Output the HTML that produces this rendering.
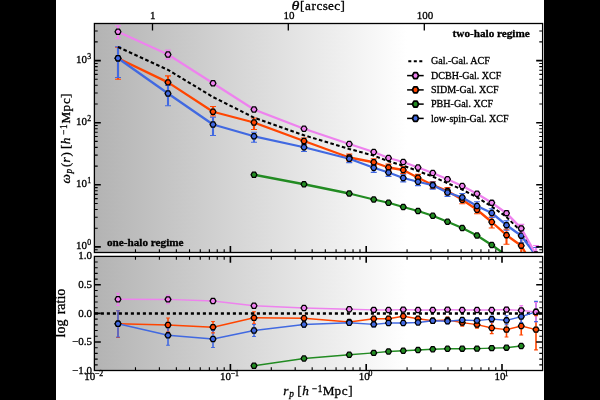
<!DOCTYPE html>
<html lang="en"><head><meta charset="utf-8"><title>Projected correlation functions</title>
<style>html,body{margin:0;padding:0;background:#000;width:600px;height:400px;overflow:hidden}svg{display:block}text{font-family:"Liberation Serif","DejaVu Serif",serif;fill:#000;stroke:#000;stroke-width:0.3px}.t{font-size:11px}.s{font-size:7.8px}.l{font-size:13.2px}.ls{font-size:9.3px}.ll{font-size:14px}.i{font-style:italic}.b{font-weight:bold;font-size:11.2px}.g{font-size:10.05px}</style></head><body>
<svg width="600" height="400" viewBox="0 0 600 400">
<defs><linearGradient id="gr" gradientUnits="userSpaceOnUse" x1="94.6" y1="0" x2="407" y2="0"><stop offset="0" stop-color="#b3b3b3"/><stop offset="1" stop-color="#ffffff"/></linearGradient>
<clipPath id="cu"><rect x="94.4" y="23.5" width="448.2" height="229"/></clipPath>
<clipPath id="cl"><rect x="94.4" y="256.4" width="448.2" height="114.1"/></clipPath></defs>
<rect x="0" y="0" width="600" height="400" fill="#000"/>
<rect x="56" y="0" width="488" height="400" fill="#fff"/>
<rect x="94.4" y="23.5" width="448.2" height="229" fill="url(#gr)"/>
<rect x="94.4" y="256.4" width="448.2" height="114.1" fill="url(#gr)"/>
<g clip-path="url(#cu)">
<path d="M118 47.25V79.25M168 75.9V93.4M213 106.45V115.95M254 118V129.5M304 138V144M349.25 154.1V160.9M373.75 158.85V165.65M388.5 164.1V170.9M403.25 166.6V173.4M418 174.35V181.15M432.75 181.6V188.4M447.5 187.6V194.4M462.25 196.25V203.75M477 206.25V213.75M491.75 217V228M506.5 229.2V244.2M521.25 236.7V259.7M536 259V301" fill="none" stroke="#ff4500" stroke-width="2.1"/>
<path d="M118 46.75V77.55M168 85.5V105.8M213 117.3V135.5M254 132.25V142.25M304 144.25V151.55M349.25 155.45V162.65M373.75 164.45V172.35M388.5 169.2V176.4M403.25 174.7V181.9M418 178.45V185.65M432.75 181.95V189.15M447.5 189.2V196.4M462.25 193.5V201.5M477 201.7V210.3M491.75 208.7V217.5M506.5 220.7V230.2M521.25 230.2V242.7M536 247.5V267.5" fill="none" stroke="#4169e1" stroke-width="2.1"/>
<path d="M118 25.75V38.75M168 50.1V59.1M213 81.25V85.25M254 107.5V111.5M304 127.25V130.25M349.25 143V145M373.75 151V153M388.5 157V159M403.25 161V163M418 166.5V168.5M432.75 172V174M447.5 178.25V180.25M462.25 185V187M477 192.25V195.25M491.75 200.8V204.8M506.5 210.7V215.7M521.25 224.4V232.9M536 245.5V263.5" fill="none" stroke="#ee82ee" stroke-width="2.1"/>
<path d="M115 47.25h6M115 79.25h6M165 75.9h6M165 93.4h6M210 106.45h6M210 115.95h6M251 118h6M251 129.5h6M301 138h6M301 144h6M346.25 154.1h6M346.25 160.9h6M370.75 158.85h6M370.75 165.65h6M385.5 164.1h6M385.5 170.9h6M400.25 166.6h6M400.25 173.4h6M415 174.35h6M415 181.15h6M429.75 181.6h6M429.75 188.4h6M444.5 187.6h6M444.5 194.4h6M459.25 196.25h6M459.25 203.75h6M474 206.25h6M474 213.75h6M488.75 217h6M488.75 228h6M503.5 229.2h6M503.5 244.2h6M518.25 236.7h6M518.25 259.7h6M533 259h6M533 301h6" fill="none" stroke="#ff4500" stroke-width="1.1"/>
<path d="M115 25.75h6M115 38.75h6M165 50.1h6M165 59.1h6M210 81.25h6M210 85.25h6M251 107.5h6M251 111.5h6M301 127.25h6M301 130.25h6M346.25 143h6M346.25 145h6M370.75 151h6M370.75 153h6M385.5 157h6M385.5 159h6M400.25 161h6M400.25 163h6M415 166.5h6M415 168.5h6M429.75 172h6M429.75 174h6M444.5 178.25h6M444.5 180.25h6M459.25 185h6M459.25 187h6M474 192.25h6M474 195.25h6M488.75 200.8h6M488.75 204.8h6M503.5 210.7h6M503.5 215.7h6M518.25 224.4h6M518.25 232.9h6M533 245.5h6M533 263.5h6" fill="none" stroke="#ee82ee" stroke-width="1.1"/>
<path d="M115 46.75h6M115 77.55h6M165 85.5h6M165 105.8h6M210 117.3h6M210 135.5h6M251 132.25h6M251 142.25h6M301 144.25h6M301 151.55h6M346.25 155.45h6M346.25 162.65h6M370.75 164.45h6M370.75 172.35h6M385.5 169.2h6M385.5 176.4h6M400.25 174.7h6M400.25 181.9h6M415 178.45h6M415 185.65h6M429.75 181.95h6M429.75 189.15h6M444.5 189.2h6M444.5 196.4h6M459.25 193.5h6M459.25 201.5h6M474 201.7h6M474 210.3h6M488.75 208.7h6M488.75 217.5h6M503.5 220.7h6M503.5 230.2h6M518.25 230.2h6M518.25 242.7h6M533 247.5h6M533 267.5h6" fill="none" stroke="#4169e1" stroke-width="1.1"/>
<polyline points="118,47 168,69.9 213,97 254,117.6 304,135.3 349.25,149 373.75,155.6 388.5,161.3 403.25,165.6 418,171 432.75,176.6 447.5,183.2 462.25,189.6 477,197.4 491.75,206.5 506.5,217 521.25,231.5 536,256.5" fill="none" stroke="#000" stroke-width="2.05" stroke-dasharray="3.6 2.4"/>
<polyline points="118,58.25 168,82.4 213,111.75 254,122.5 304,141 349.25,157.5 373.75,162.25 388.5,167.5 403.25,170 418,177.75 432.75,185 447.5,191 462.25,199.75 477,209.75 491.75,222 506.5,235.2 521.25,245.7 536,271" fill="none" stroke="#ff4500" stroke-width="2.3" stroke-linejoin="round"/>
<polygon points="120.95,58.25 119.47,60.8 116.53,60.8 115.05,58.25 116.53,55.7 119.47,55.7" fill="#ff4500" stroke="#000" stroke-width="1.3" stroke-linejoin="round"/>
<polygon points="170.95,82.4 169.47,84.95 166.53,84.95 165.05,82.4 166.53,79.85 169.47,79.85" fill="#ff4500" stroke="#000" stroke-width="1.3" stroke-linejoin="round"/>
<polygon points="215.95,111.75 214.47,114.3 211.53,114.3 210.05,111.75 211.53,109.2 214.47,109.2" fill="#ff4500" stroke="#000" stroke-width="1.3" stroke-linejoin="round"/>
<polygon points="256.95,122.5 255.47,125.05 252.53,125.05 251.05,122.5 252.53,119.95 255.47,119.95" fill="#ff4500" stroke="#000" stroke-width="1.3" stroke-linejoin="round"/>
<polygon points="306.95,141 305.48,143.55 302.52,143.55 301.05,141 302.52,138.45 305.48,138.45" fill="#ff4500" stroke="#000" stroke-width="1.3" stroke-linejoin="round"/>
<polygon points="352.2,157.5 350.73,160.05 347.77,160.05 346.3,157.5 347.77,154.95 350.73,154.95" fill="#ff4500" stroke="#000" stroke-width="1.3" stroke-linejoin="round"/>
<polygon points="376.7,162.25 375.23,164.8 372.27,164.8 370.8,162.25 372.27,159.7 375.23,159.7" fill="#ff4500" stroke="#000" stroke-width="1.3" stroke-linejoin="round"/>
<polygon points="391.45,167.5 389.98,170.05 387.02,170.05 385.55,167.5 387.02,164.95 389.98,164.95" fill="#ff4500" stroke="#000" stroke-width="1.3" stroke-linejoin="round"/>
<polygon points="406.2,170 404.73,172.55 401.77,172.55 400.3,170 401.77,167.45 404.73,167.45" fill="#ff4500" stroke="#000" stroke-width="1.3" stroke-linejoin="round"/>
<polygon points="420.95,177.75 419.48,180.3 416.52,180.3 415.05,177.75 416.52,175.2 419.48,175.2" fill="#ff4500" stroke="#000" stroke-width="1.3" stroke-linejoin="round"/>
<polygon points="435.7,185 434.23,187.55 431.27,187.55 429.8,185 431.27,182.45 434.23,182.45" fill="#ff4500" stroke="#000" stroke-width="1.3" stroke-linejoin="round"/>
<polygon points="450.45,191 448.98,193.55 446.02,193.55 444.55,191 446.02,188.45 448.98,188.45" fill="#ff4500" stroke="#000" stroke-width="1.3" stroke-linejoin="round"/>
<polygon points="465.2,199.75 463.73,202.3 460.77,202.3 459.3,199.75 460.77,197.2 463.73,197.2" fill="#ff4500" stroke="#000" stroke-width="1.3" stroke-linejoin="round"/>
<polygon points="479.95,209.75 478.48,212.3 475.52,212.3 474.05,209.75 475.52,207.2 478.48,207.2" fill="#ff4500" stroke="#000" stroke-width="1.3" stroke-linejoin="round"/>
<polygon points="494.7,222 493.23,224.55 490.27,224.55 488.8,222 490.27,219.45 493.23,219.45" fill="#ff4500" stroke="#000" stroke-width="1.3" stroke-linejoin="round"/>
<polygon points="509.45,235.2 507.98,237.75 505.02,237.75 503.55,235.2 505.02,232.65 507.98,232.65" fill="#ff4500" stroke="#000" stroke-width="1.3" stroke-linejoin="round"/>
<polygon points="524.2,245.7 522.73,248.25 519.77,248.25 518.3,245.7 519.77,243.15 522.73,243.15" fill="#ff4500" stroke="#000" stroke-width="1.3" stroke-linejoin="round"/>
<polygon points="538.95,271 537.48,273.55 534.52,273.55 533.05,271 534.52,268.45 537.48,268.45" fill="#ff4500" stroke="#000" stroke-width="1.3" stroke-linejoin="round"/>
<polyline points="254,174.75 304,184.25 349.25,193.5 373.75,199.5 388.5,202.75 403.25,207 418,211 432.75,215.75 447.5,221.75 462.25,228 477,235.5 491.75,245 506.5,255.5 521.25,268" fill="none" stroke="#228b22" stroke-width="2.3" stroke-linejoin="round"/>
<polygon points="256.95,174.75 255.47,177.3 252.53,177.3 251.05,174.75 252.53,172.2 255.47,172.2" fill="#228b22" stroke="#000" stroke-width="1.3" stroke-linejoin="round"/>
<polygon points="306.95,184.25 305.48,186.8 302.52,186.8 301.05,184.25 302.52,181.7 305.48,181.7" fill="#228b22" stroke="#000" stroke-width="1.3" stroke-linejoin="round"/>
<polygon points="352.2,193.5 350.73,196.05 347.77,196.05 346.3,193.5 347.77,190.95 350.73,190.95" fill="#228b22" stroke="#000" stroke-width="1.3" stroke-linejoin="round"/>
<polygon points="376.7,199.5 375.23,202.05 372.27,202.05 370.8,199.5 372.27,196.95 375.23,196.95" fill="#228b22" stroke="#000" stroke-width="1.3" stroke-linejoin="round"/>
<polygon points="391.45,202.75 389.98,205.3 387.02,205.3 385.55,202.75 387.02,200.2 389.98,200.2" fill="#228b22" stroke="#000" stroke-width="1.3" stroke-linejoin="round"/>
<polygon points="406.2,207 404.73,209.55 401.77,209.55 400.3,207 401.77,204.45 404.73,204.45" fill="#228b22" stroke="#000" stroke-width="1.3" stroke-linejoin="round"/>
<polygon points="420.95,211 419.48,213.55 416.52,213.55 415.05,211 416.52,208.45 419.48,208.45" fill="#228b22" stroke="#000" stroke-width="1.3" stroke-linejoin="round"/>
<polygon points="435.7,215.75 434.23,218.3 431.27,218.3 429.8,215.75 431.27,213.2 434.23,213.2" fill="#228b22" stroke="#000" stroke-width="1.3" stroke-linejoin="round"/>
<polygon points="450.45,221.75 448.98,224.3 446.02,224.3 444.55,221.75 446.02,219.2 448.98,219.2" fill="#228b22" stroke="#000" stroke-width="1.3" stroke-linejoin="round"/>
<polygon points="465.2,228 463.73,230.55 460.77,230.55 459.3,228 460.77,225.45 463.73,225.45" fill="#228b22" stroke="#000" stroke-width="1.3" stroke-linejoin="round"/>
<polygon points="479.95,235.5 478.48,238.05 475.52,238.05 474.05,235.5 475.52,232.95 478.48,232.95" fill="#228b22" stroke="#000" stroke-width="1.3" stroke-linejoin="round"/>
<polygon points="494.7,245 493.23,247.55 490.27,247.55 488.8,245 490.27,242.45 493.23,242.45" fill="#228b22" stroke="#000" stroke-width="1.3" stroke-linejoin="round"/>
<polygon points="509.45,255.5 507.98,258.05 505.02,258.05 503.55,255.5 505.02,252.95 507.98,252.95" fill="#228b22" stroke="#000" stroke-width="1.3" stroke-linejoin="round"/>
<polygon points="524.2,268 522.73,270.55 519.77,270.55 518.3,268 519.77,265.45 522.73,265.45" fill="#228b22" stroke="#000" stroke-width="1.3" stroke-linejoin="round"/>
<polyline points="118,58.25 168,93.5 213,124.5 254,136.25 304,147.25 349.25,158.75 373.75,167.75 388.5,172.5 403.25,178 418,181.75 432.75,185.25 447.5,192.5 462.25,197.5 477,206 491.75,213 506.5,225.2 521.25,235.7 536,255.5" fill="none" stroke="#4169e1" stroke-width="2.3" stroke-linejoin="round"/>
<polygon points="120.95,58.25 119.47,60.8 116.53,60.8 115.05,58.25 116.53,55.7 119.47,55.7" fill="#4169e1" stroke="#000" stroke-width="1.3" stroke-linejoin="round"/>
<polygon points="170.95,93.5 169.47,96.05 166.53,96.05 165.05,93.5 166.53,90.95 169.47,90.95" fill="#4169e1" stroke="#000" stroke-width="1.3" stroke-linejoin="round"/>
<polygon points="215.95,124.5 214.47,127.05 211.53,127.05 210.05,124.5 211.53,121.95 214.47,121.95" fill="#4169e1" stroke="#000" stroke-width="1.3" stroke-linejoin="round"/>
<polygon points="256.95,136.25 255.47,138.8 252.53,138.8 251.05,136.25 252.53,133.7 255.47,133.7" fill="#4169e1" stroke="#000" stroke-width="1.3" stroke-linejoin="round"/>
<polygon points="306.95,147.25 305.48,149.8 302.52,149.8 301.05,147.25 302.52,144.7 305.48,144.7" fill="#4169e1" stroke="#000" stroke-width="1.3" stroke-linejoin="round"/>
<polygon points="352.2,158.75 350.73,161.3 347.77,161.3 346.3,158.75 347.77,156.2 350.73,156.2" fill="#4169e1" stroke="#000" stroke-width="1.3" stroke-linejoin="round"/>
<polygon points="376.7,167.75 375.23,170.3 372.27,170.3 370.8,167.75 372.27,165.2 375.23,165.2" fill="#4169e1" stroke="#000" stroke-width="1.3" stroke-linejoin="round"/>
<polygon points="391.45,172.5 389.98,175.05 387.02,175.05 385.55,172.5 387.02,169.95 389.98,169.95" fill="#4169e1" stroke="#000" stroke-width="1.3" stroke-linejoin="round"/>
<polygon points="406.2,178 404.73,180.55 401.77,180.55 400.3,178 401.77,175.45 404.73,175.45" fill="#4169e1" stroke="#000" stroke-width="1.3" stroke-linejoin="round"/>
<polygon points="420.95,181.75 419.48,184.3 416.52,184.3 415.05,181.75 416.52,179.2 419.48,179.2" fill="#4169e1" stroke="#000" stroke-width="1.3" stroke-linejoin="round"/>
<polygon points="435.7,185.25 434.23,187.8 431.27,187.8 429.8,185.25 431.27,182.7 434.23,182.7" fill="#4169e1" stroke="#000" stroke-width="1.3" stroke-linejoin="round"/>
<polygon points="450.45,192.5 448.98,195.05 446.02,195.05 444.55,192.5 446.02,189.95 448.98,189.95" fill="#4169e1" stroke="#000" stroke-width="1.3" stroke-linejoin="round"/>
<polygon points="465.2,197.5 463.73,200.05 460.77,200.05 459.3,197.5 460.77,194.95 463.73,194.95" fill="#4169e1" stroke="#000" stroke-width="1.3" stroke-linejoin="round"/>
<polygon points="479.95,206 478.48,208.55 475.52,208.55 474.05,206 475.52,203.45 478.48,203.45" fill="#4169e1" stroke="#000" stroke-width="1.3" stroke-linejoin="round"/>
<polygon points="494.7,213 493.23,215.55 490.27,215.55 488.8,213 490.27,210.45 493.23,210.45" fill="#4169e1" stroke="#000" stroke-width="1.3" stroke-linejoin="round"/>
<polygon points="509.45,225.2 507.98,227.75 505.02,227.75 503.55,225.2 505.02,222.65 507.98,222.65" fill="#4169e1" stroke="#000" stroke-width="1.3" stroke-linejoin="round"/>
<polygon points="524.2,235.7 522.73,238.25 519.77,238.25 518.3,235.7 519.77,233.15 522.73,233.15" fill="#4169e1" stroke="#000" stroke-width="1.3" stroke-linejoin="round"/>
<polygon points="538.95,255.5 537.48,258.05 534.52,258.05 533.05,255.5 534.52,252.95 537.48,252.95" fill="#4169e1" stroke="#000" stroke-width="1.3" stroke-linejoin="round"/>
<polyline points="118,31.75 168,54.5 213,83.25 254,109.5 304,128.75 349.25,144 373.75,152 388.5,158 403.25,162 418,167.5 432.75,173 447.5,179.25 462.25,186 477,193.75 491.75,202.8 506.5,213.2 521.25,228.4 536,254.5" fill="none" stroke="#ee82ee" stroke-width="2.3" stroke-linejoin="round"/>
<polygon points="120.95,31.75 119.47,34.3 116.53,34.3 115.05,31.75 116.53,29.2 119.47,29.2" fill="#ee82ee" stroke="#000" stroke-width="1.3" stroke-linejoin="round"/>
<polygon points="170.95,54.5 169.47,57.05 166.53,57.05 165.05,54.5 166.53,51.95 169.47,51.95" fill="#ee82ee" stroke="#000" stroke-width="1.3" stroke-linejoin="round"/>
<polygon points="215.95,83.25 214.47,85.8 211.53,85.8 210.05,83.25 211.53,80.7 214.47,80.7" fill="#ee82ee" stroke="#000" stroke-width="1.3" stroke-linejoin="round"/>
<polygon points="256.95,109.5 255.47,112.05 252.53,112.05 251.05,109.5 252.53,106.95 255.47,106.95" fill="#ee82ee" stroke="#000" stroke-width="1.3" stroke-linejoin="round"/>
<polygon points="306.95,128.75 305.48,131.3 302.52,131.3 301.05,128.75 302.52,126.2 305.48,126.2" fill="#ee82ee" stroke="#000" stroke-width="1.3" stroke-linejoin="round"/>
<polygon points="352.2,144 350.73,146.55 347.77,146.55 346.3,144 347.77,141.45 350.73,141.45" fill="#ee82ee" stroke="#000" stroke-width="1.3" stroke-linejoin="round"/>
<polygon points="376.7,152 375.23,154.55 372.27,154.55 370.8,152 372.27,149.45 375.23,149.45" fill="#ee82ee" stroke="#000" stroke-width="1.3" stroke-linejoin="round"/>
<polygon points="391.45,158 389.98,160.55 387.02,160.55 385.55,158 387.02,155.45 389.98,155.45" fill="#ee82ee" stroke="#000" stroke-width="1.3" stroke-linejoin="round"/>
<polygon points="406.2,162 404.73,164.55 401.77,164.55 400.3,162 401.77,159.45 404.73,159.45" fill="#ee82ee" stroke="#000" stroke-width="1.3" stroke-linejoin="round"/>
<polygon points="420.95,167.5 419.48,170.05 416.52,170.05 415.05,167.5 416.52,164.95 419.48,164.95" fill="#ee82ee" stroke="#000" stroke-width="1.3" stroke-linejoin="round"/>
<polygon points="435.7,173 434.23,175.55 431.27,175.55 429.8,173 431.27,170.45 434.23,170.45" fill="#ee82ee" stroke="#000" stroke-width="1.3" stroke-linejoin="round"/>
<polygon points="450.45,179.25 448.98,181.8 446.02,181.8 444.55,179.25 446.02,176.7 448.98,176.7" fill="#ee82ee" stroke="#000" stroke-width="1.3" stroke-linejoin="round"/>
<polygon points="465.2,186 463.73,188.55 460.77,188.55 459.3,186 460.77,183.45 463.73,183.45" fill="#ee82ee" stroke="#000" stroke-width="1.3" stroke-linejoin="round"/>
<polygon points="479.95,193.75 478.48,196.3 475.52,196.3 474.05,193.75 475.52,191.2 478.48,191.2" fill="#ee82ee" stroke="#000" stroke-width="1.3" stroke-linejoin="round"/>
<polygon points="494.7,202.8 493.23,205.35 490.27,205.35 488.8,202.8 490.27,200.25 493.23,200.25" fill="#ee82ee" stroke="#000" stroke-width="1.3" stroke-linejoin="round"/>
<polygon points="509.45,213.2 507.98,215.75 505.02,215.75 503.55,213.2 505.02,210.65 507.98,210.65" fill="#ee82ee" stroke="#000" stroke-width="1.3" stroke-linejoin="round"/>
<polygon points="524.2,228.4 522.73,230.95 519.77,230.95 518.3,228.4 519.77,225.85 522.73,225.85" fill="#ee82ee" stroke="#000" stroke-width="1.3" stroke-linejoin="round"/>
<polygon points="538.95,254.5 537.48,257.05 534.52,257.05 533.05,254.5 534.52,251.95 537.48,251.95" fill="#ee82ee" stroke="#000" stroke-width="1.3" stroke-linejoin="round"/>
</g>
<g clip-path="url(#cl)">
<path d="M118 310.75V337.45M168 318V332M213 321.5V332.9M254 311.8V323.8M304 315.25V321.25M349.25 319.5V324.5M373.75 316.25V321.25M388.5 316.25V321.25M403.25 313.75V318.75M418 316.25V321.25M432.75 318.25V323.25M447.5 317V323M462.25 319.1V326.1M477 321.1V328.1M491.75 322.4V333.6M506.5 322.2V337M521.25 317V335M536 315.6V349.9" fill="none" stroke="#ff4500" stroke-width="1.6"/>
<path d="M118 310.75V337.05M168 325.3V345.3M213 330.5V347.5M254 324.5V336.5M304 321.5V327.5M349.25 320.25V325.25M373.75 321.9V326.9M388.5 320.5V325.5M403.25 321V325M418 320.5V324.5M432.75 318.75V322.75M447.5 318.75V323.75M462.25 317.5V322.5M477 317.6V323.6M491.75 316.1V322.1M506.5 315.8V324.8M521.25 310.6V322.6M536 301.4V321.6" fill="none" stroke="#4169e1" stroke-width="1.6"/>
<path d="M118 293.25V305.45M168 295.2V303.6M213 298.5V303.5M254 303.75V307.75M304 306.5V309.5M349.25 308.25V310.25M373.75 308.9V310.9M388.5 309V311M403.25 308.6V310.6M418 309V311M432.75 309V311M447.5 308.6V310.6M462.25 309V311M477 308.5V311.5M491.75 308V312M506.5 307.1V312.1M521.25 305.6V315.2M536 302.4V321.6" fill="none" stroke="#ee82ee" stroke-width="1.6"/>
<path d="M116.1 310.75h3.8M116.1 337.45h3.8M166.1 318h3.8M166.1 332h3.8M211.1 321.5h3.8M211.1 332.9h3.8M252.1 311.8h3.8M252.1 323.8h3.8M302.1 315.25h3.8M302.1 321.25h3.8M347.35 319.5h3.8M347.35 324.5h3.8M371.85 316.25h3.8M371.85 321.25h3.8M386.6 316.25h3.8M386.6 321.25h3.8M401.35 313.75h3.8M401.35 318.75h3.8M416.1 316.25h3.8M416.1 321.25h3.8M430.85 318.25h3.8M430.85 323.25h3.8M445.6 317h3.8M445.6 323h3.8M460.35 319.1h3.8M460.35 326.1h3.8M475.1 321.1h3.8M475.1 328.1h3.8M489.85 322.4h3.8M489.85 333.6h3.8M504.6 322.2h3.8M504.6 337h3.8M519.35 317h3.8M519.35 335h3.8M534.1 315.6h3.8M534.1 349.9h3.8" fill="none" stroke="#ff4500" stroke-width="1.1"/>
<path d="M116.1 293.25h3.8M116.1 305.45h3.8M166.1 295.2h3.8M166.1 303.6h3.8M211.1 298.5h3.8M211.1 303.5h3.8M252.1 303.75h3.8M252.1 307.75h3.8M302.1 306.5h3.8M302.1 309.5h3.8M347.35 308.25h3.8M347.35 310.25h3.8M371.85 308.9h3.8M371.85 310.9h3.8M386.6 309h3.8M386.6 311h3.8M401.35 308.6h3.8M401.35 310.6h3.8M416.1 309h3.8M416.1 311h3.8M430.85 309h3.8M430.85 311h3.8M445.6 308.6h3.8M445.6 310.6h3.8M460.35 309h3.8M460.35 311h3.8M475.1 308.5h3.8M475.1 311.5h3.8M489.85 308h3.8M489.85 312h3.8M504.6 307.1h3.8M504.6 312.1h3.8M519.35 305.6h3.8M519.35 315.2h3.8M534.1 302.4h3.8M534.1 321.6h3.8" fill="none" stroke="#ee82ee" stroke-width="1.1"/>
<path d="M116.1 310.75h3.8M116.1 337.05h3.8M166.1 325.3h3.8M166.1 345.3h3.8M211.1 330.5h3.8M211.1 347.5h3.8M252.1 324.5h3.8M252.1 336.5h3.8M302.1 321.5h3.8M302.1 327.5h3.8M347.35 320.25h3.8M347.35 325.25h3.8M371.85 321.9h3.8M371.85 326.9h3.8M386.6 320.5h3.8M386.6 325.5h3.8M401.35 321h3.8M401.35 325h3.8M416.1 320.5h3.8M416.1 324.5h3.8M430.85 318.75h3.8M430.85 322.75h3.8M445.6 318.75h3.8M445.6 323.75h3.8M460.35 317.5h3.8M460.35 322.5h3.8M475.1 317.6h3.8M475.1 323.6h3.8M489.85 316.1h3.8M489.85 322.1h3.8M504.6 315.8h3.8M504.6 324.8h3.8M519.35 310.6h3.8M519.35 322.6h3.8M534.1 301.4h3.8M534.1 321.6h3.8" fill="none" stroke="#4169e1" stroke-width="1.1"/>
<path d="M88.85 313.4H542.6" fill="none" stroke="#000" stroke-width="2.5" stroke-dasharray="3.1 2.9"/>
<polyline points="118,323.75 168,325 213,327.2 254,317.8 304,318.25 349.25,322 373.75,318.75 388.5,318.75 403.25,316.25 418,318.75 432.75,320.75 447.5,320 462.25,322.6 477,324.6 491.75,328 506.5,329.6 521.25,326 536,329.6" fill="none" stroke="#ff4500" stroke-width="1.45" stroke-linejoin="round"/>
<polygon points="120.95,323.75 119.47,326.3 116.53,326.3 115.05,323.75 116.53,321.2 119.47,321.2" fill="#ff4500" stroke="#000" stroke-width="1.3" stroke-linejoin="round"/>
<polygon points="170.95,325 169.47,327.55 166.53,327.55 165.05,325 166.53,322.45 169.47,322.45" fill="#ff4500" stroke="#000" stroke-width="1.3" stroke-linejoin="round"/>
<polygon points="215.95,327.2 214.47,329.75 211.53,329.75 210.05,327.2 211.53,324.65 214.47,324.65" fill="#ff4500" stroke="#000" stroke-width="1.3" stroke-linejoin="round"/>
<polygon points="256.95,317.8 255.47,320.35 252.53,320.35 251.05,317.8 252.53,315.25 255.47,315.25" fill="#ff4500" stroke="#000" stroke-width="1.3" stroke-linejoin="round"/>
<polygon points="306.95,318.25 305.48,320.8 302.52,320.8 301.05,318.25 302.52,315.7 305.48,315.7" fill="#ff4500" stroke="#000" stroke-width="1.3" stroke-linejoin="round"/>
<polygon points="352.2,322 350.73,324.55 347.77,324.55 346.3,322 347.77,319.45 350.73,319.45" fill="#ff4500" stroke="#000" stroke-width="1.3" stroke-linejoin="round"/>
<polygon points="376.7,318.75 375.23,321.3 372.27,321.3 370.8,318.75 372.27,316.2 375.23,316.2" fill="#ff4500" stroke="#000" stroke-width="1.3" stroke-linejoin="round"/>
<polygon points="391.45,318.75 389.98,321.3 387.02,321.3 385.55,318.75 387.02,316.2 389.98,316.2" fill="#ff4500" stroke="#000" stroke-width="1.3" stroke-linejoin="round"/>
<polygon points="406.2,316.25 404.73,318.8 401.77,318.8 400.3,316.25 401.77,313.7 404.73,313.7" fill="#ff4500" stroke="#000" stroke-width="1.3" stroke-linejoin="round"/>
<polygon points="420.95,318.75 419.48,321.3 416.52,321.3 415.05,318.75 416.52,316.2 419.48,316.2" fill="#ff4500" stroke="#000" stroke-width="1.3" stroke-linejoin="round"/>
<polygon points="435.7,320.75 434.23,323.3 431.27,323.3 429.8,320.75 431.27,318.2 434.23,318.2" fill="#ff4500" stroke="#000" stroke-width="1.3" stroke-linejoin="round"/>
<polygon points="450.45,320 448.98,322.55 446.02,322.55 444.55,320 446.02,317.45 448.98,317.45" fill="#ff4500" stroke="#000" stroke-width="1.3" stroke-linejoin="round"/>
<polygon points="465.2,322.6 463.73,325.15 460.77,325.15 459.3,322.6 460.77,320.05 463.73,320.05" fill="#ff4500" stroke="#000" stroke-width="1.3" stroke-linejoin="round"/>
<polygon points="479.95,324.6 478.48,327.15 475.52,327.15 474.05,324.6 475.52,322.05 478.48,322.05" fill="#ff4500" stroke="#000" stroke-width="1.3" stroke-linejoin="round"/>
<polygon points="494.7,328 493.23,330.55 490.27,330.55 488.8,328 490.27,325.45 493.23,325.45" fill="#ff4500" stroke="#000" stroke-width="1.3" stroke-linejoin="round"/>
<polygon points="509.45,329.6 507.98,332.15 505.02,332.15 503.55,329.6 505.02,327.05 507.98,327.05" fill="#ff4500" stroke="#000" stroke-width="1.3" stroke-linejoin="round"/>
<polygon points="524.2,326 522.73,328.55 519.77,328.55 518.3,326 519.77,323.45 522.73,323.45" fill="#ff4500" stroke="#000" stroke-width="1.3" stroke-linejoin="round"/>
<polygon points="538.95,329.6 537.48,332.15 534.52,332.15 533.05,329.6 534.52,327.05 537.48,327.05" fill="#ff4500" stroke="#000" stroke-width="1.3" stroke-linejoin="round"/>
<polyline points="254,365.75 304,358.5 349.25,354.75 373.75,352.9 388.5,351.5 403.25,350.75 418,350 432.75,349.25 447.5,348.75 462.25,348.7 477,348.6 491.75,348.1 506.5,347.7 521.25,346" fill="none" stroke="#228b22" stroke-width="1.45" stroke-linejoin="round"/>
<polygon points="256.95,365.75 255.47,368.3 252.53,368.3 251.05,365.75 252.53,363.2 255.47,363.2" fill="#228b22" stroke="#000" stroke-width="1.3" stroke-linejoin="round"/>
<polygon points="306.95,358.5 305.48,361.05 302.52,361.05 301.05,358.5 302.52,355.95 305.48,355.95" fill="#228b22" stroke="#000" stroke-width="1.3" stroke-linejoin="round"/>
<polygon points="352.2,354.75 350.73,357.3 347.77,357.3 346.3,354.75 347.77,352.2 350.73,352.2" fill="#228b22" stroke="#000" stroke-width="1.3" stroke-linejoin="round"/>
<polygon points="376.7,352.9 375.23,355.45 372.27,355.45 370.8,352.9 372.27,350.35 375.23,350.35" fill="#228b22" stroke="#000" stroke-width="1.3" stroke-linejoin="round"/>
<polygon points="391.45,351.5 389.98,354.05 387.02,354.05 385.55,351.5 387.02,348.95 389.98,348.95" fill="#228b22" stroke="#000" stroke-width="1.3" stroke-linejoin="round"/>
<polygon points="406.2,350.75 404.73,353.3 401.77,353.3 400.3,350.75 401.77,348.2 404.73,348.2" fill="#228b22" stroke="#000" stroke-width="1.3" stroke-linejoin="round"/>
<polygon points="420.95,350 419.48,352.55 416.52,352.55 415.05,350 416.52,347.45 419.48,347.45" fill="#228b22" stroke="#000" stroke-width="1.3" stroke-linejoin="round"/>
<polygon points="435.7,349.25 434.23,351.8 431.27,351.8 429.8,349.25 431.27,346.7 434.23,346.7" fill="#228b22" stroke="#000" stroke-width="1.3" stroke-linejoin="round"/>
<polygon points="450.45,348.75 448.98,351.3 446.02,351.3 444.55,348.75 446.02,346.2 448.98,346.2" fill="#228b22" stroke="#000" stroke-width="1.3" stroke-linejoin="round"/>
<polygon points="465.2,348.7 463.73,351.25 460.77,351.25 459.3,348.7 460.77,346.15 463.73,346.15" fill="#228b22" stroke="#000" stroke-width="1.3" stroke-linejoin="round"/>
<polygon points="479.95,348.6 478.48,351.15 475.52,351.15 474.05,348.6 475.52,346.05 478.48,346.05" fill="#228b22" stroke="#000" stroke-width="1.3" stroke-linejoin="round"/>
<polygon points="494.7,348.1 493.23,350.65 490.27,350.65 488.8,348.1 490.27,345.55 493.23,345.55" fill="#228b22" stroke="#000" stroke-width="1.3" stroke-linejoin="round"/>
<polygon points="509.45,347.7 507.98,350.25 505.02,350.25 503.55,347.7 505.02,345.15 507.98,345.15" fill="#228b22" stroke="#000" stroke-width="1.3" stroke-linejoin="round"/>
<polygon points="524.2,346 522.73,348.55 519.77,348.55 518.3,346 519.77,343.45 522.73,343.45" fill="#228b22" stroke="#000" stroke-width="1.3" stroke-linejoin="round"/>
<polyline points="118,323.75 168,335.3 213,339 254,330.5 304,324.5 349.25,322.75 373.75,324.4 388.5,323 403.25,323 418,322.5 432.75,320.75 447.5,321.25 462.25,320 477,320.6 491.75,319.1 506.5,320.3 521.25,316.6 536,311.8" fill="none" stroke="#4169e1" stroke-width="1.45" stroke-linejoin="round"/>
<polygon points="120.95,323.75 119.47,326.3 116.53,326.3 115.05,323.75 116.53,321.2 119.47,321.2" fill="#4169e1" stroke="#000" stroke-width="1.3" stroke-linejoin="round"/>
<polygon points="170.95,335.3 169.47,337.85 166.53,337.85 165.05,335.3 166.53,332.75 169.47,332.75" fill="#4169e1" stroke="#000" stroke-width="1.3" stroke-linejoin="round"/>
<polygon points="215.95,339 214.47,341.55 211.53,341.55 210.05,339 211.53,336.45 214.47,336.45" fill="#4169e1" stroke="#000" stroke-width="1.3" stroke-linejoin="round"/>
<polygon points="256.95,330.5 255.47,333.05 252.53,333.05 251.05,330.5 252.53,327.95 255.47,327.95" fill="#4169e1" stroke="#000" stroke-width="1.3" stroke-linejoin="round"/>
<polygon points="306.95,324.5 305.48,327.05 302.52,327.05 301.05,324.5 302.52,321.95 305.48,321.95" fill="#4169e1" stroke="#000" stroke-width="1.3" stroke-linejoin="round"/>
<polygon points="352.2,322.75 350.73,325.3 347.77,325.3 346.3,322.75 347.77,320.2 350.73,320.2" fill="#4169e1" stroke="#000" stroke-width="1.3" stroke-linejoin="round"/>
<polygon points="376.7,324.4 375.23,326.95 372.27,326.95 370.8,324.4 372.27,321.85 375.23,321.85" fill="#4169e1" stroke="#000" stroke-width="1.3" stroke-linejoin="round"/>
<polygon points="391.45,323 389.98,325.55 387.02,325.55 385.55,323 387.02,320.45 389.98,320.45" fill="#4169e1" stroke="#000" stroke-width="1.3" stroke-linejoin="round"/>
<polygon points="406.2,323 404.73,325.55 401.77,325.55 400.3,323 401.77,320.45 404.73,320.45" fill="#4169e1" stroke="#000" stroke-width="1.3" stroke-linejoin="round"/>
<polygon points="420.95,322.5 419.48,325.05 416.52,325.05 415.05,322.5 416.52,319.95 419.48,319.95" fill="#4169e1" stroke="#000" stroke-width="1.3" stroke-linejoin="round"/>
<polygon points="435.7,320.75 434.23,323.3 431.27,323.3 429.8,320.75 431.27,318.2 434.23,318.2" fill="#4169e1" stroke="#000" stroke-width="1.3" stroke-linejoin="round"/>
<polygon points="450.45,321.25 448.98,323.8 446.02,323.8 444.55,321.25 446.02,318.7 448.98,318.7" fill="#4169e1" stroke="#000" stroke-width="1.3" stroke-linejoin="round"/>
<polygon points="465.2,320 463.73,322.55 460.77,322.55 459.3,320 460.77,317.45 463.73,317.45" fill="#4169e1" stroke="#000" stroke-width="1.3" stroke-linejoin="round"/>
<polygon points="479.95,320.6 478.48,323.15 475.52,323.15 474.05,320.6 475.52,318.05 478.48,318.05" fill="#4169e1" stroke="#000" stroke-width="1.3" stroke-linejoin="round"/>
<polygon points="494.7,319.1 493.23,321.65 490.27,321.65 488.8,319.1 490.27,316.55 493.23,316.55" fill="#4169e1" stroke="#000" stroke-width="1.3" stroke-linejoin="round"/>
<polygon points="509.45,320.3 507.98,322.85 505.02,322.85 503.55,320.3 505.02,317.75 507.98,317.75" fill="#4169e1" stroke="#000" stroke-width="1.3" stroke-linejoin="round"/>
<polygon points="524.2,316.6 522.73,319.15 519.77,319.15 518.3,316.6 519.77,314.05 522.73,314.05" fill="#4169e1" stroke="#000" stroke-width="1.3" stroke-linejoin="round"/>
<polygon points="538.95,311.8 537.48,314.35 534.52,314.35 533.05,311.8 534.52,309.25 537.48,309.25" fill="#4169e1" stroke="#000" stroke-width="1.3" stroke-linejoin="round"/>
<polyline points="118,299.25 168,299.4 213,301 254,305.75 304,308 349.25,309.25 373.75,309.9 388.5,310 403.25,309.6 418,310 432.75,310 447.5,309.6 462.25,310 477,310 491.75,310 506.5,309.6 521.25,310.4 536,312" fill="none" stroke="#ee82ee" stroke-width="1.45" stroke-linejoin="round"/>
<polygon points="120.95,299.25 119.47,301.8 116.53,301.8 115.05,299.25 116.53,296.7 119.47,296.7" fill="#ee82ee" stroke="#000" stroke-width="1.3" stroke-linejoin="round"/>
<polygon points="170.95,299.4 169.47,301.95 166.53,301.95 165.05,299.4 166.53,296.85 169.47,296.85" fill="#ee82ee" stroke="#000" stroke-width="1.3" stroke-linejoin="round"/>
<polygon points="215.95,301 214.47,303.55 211.53,303.55 210.05,301 211.53,298.45 214.47,298.45" fill="#ee82ee" stroke="#000" stroke-width="1.3" stroke-linejoin="round"/>
<polygon points="256.95,305.75 255.47,308.3 252.53,308.3 251.05,305.75 252.53,303.2 255.47,303.2" fill="#ee82ee" stroke="#000" stroke-width="1.3" stroke-linejoin="round"/>
<polygon points="306.95,308 305.48,310.55 302.52,310.55 301.05,308 302.52,305.45 305.48,305.45" fill="#ee82ee" stroke="#000" stroke-width="1.3" stroke-linejoin="round"/>
<polygon points="352.2,309.25 350.73,311.8 347.77,311.8 346.3,309.25 347.77,306.7 350.73,306.7" fill="#ee82ee" stroke="#000" stroke-width="1.3" stroke-linejoin="round"/>
<polygon points="376.7,309.9 375.23,312.45 372.27,312.45 370.8,309.9 372.27,307.35 375.23,307.35" fill="#ee82ee" stroke="#000" stroke-width="1.3" stroke-linejoin="round"/>
<polygon points="391.45,310 389.98,312.55 387.02,312.55 385.55,310 387.02,307.45 389.98,307.45" fill="#ee82ee" stroke="#000" stroke-width="1.3" stroke-linejoin="round"/>
<polygon points="406.2,309.6 404.73,312.15 401.77,312.15 400.3,309.6 401.77,307.05 404.73,307.05" fill="#ee82ee" stroke="#000" stroke-width="1.3" stroke-linejoin="round"/>
<polygon points="420.95,310 419.48,312.55 416.52,312.55 415.05,310 416.52,307.45 419.48,307.45" fill="#ee82ee" stroke="#000" stroke-width="1.3" stroke-linejoin="round"/>
<polygon points="435.7,310 434.23,312.55 431.27,312.55 429.8,310 431.27,307.45 434.23,307.45" fill="#ee82ee" stroke="#000" stroke-width="1.3" stroke-linejoin="round"/>
<polygon points="450.45,309.6 448.98,312.15 446.02,312.15 444.55,309.6 446.02,307.05 448.98,307.05" fill="#ee82ee" stroke="#000" stroke-width="1.3" stroke-linejoin="round"/>
<polygon points="465.2,310 463.73,312.55 460.77,312.55 459.3,310 460.77,307.45 463.73,307.45" fill="#ee82ee" stroke="#000" stroke-width="1.3" stroke-linejoin="round"/>
<polygon points="479.95,310 478.48,312.55 475.52,312.55 474.05,310 475.52,307.45 478.48,307.45" fill="#ee82ee" stroke="#000" stroke-width="1.3" stroke-linejoin="round"/>
<polygon points="494.7,310 493.23,312.55 490.27,312.55 488.8,310 490.27,307.45 493.23,307.45" fill="#ee82ee" stroke="#000" stroke-width="1.3" stroke-linejoin="round"/>
<polygon points="509.45,309.6 507.98,312.15 505.02,312.15 503.55,309.6 505.02,307.05 507.98,307.05" fill="#ee82ee" stroke="#000" stroke-width="1.3" stroke-linejoin="round"/>
<polygon points="524.2,310.4 522.73,312.95 519.77,312.95 518.3,310.4 519.77,307.85 522.73,307.85" fill="#ee82ee" stroke="#000" stroke-width="1.3" stroke-linejoin="round"/>
<polygon points="538.95,312 537.48,314.55 534.52,314.55 533.05,312 534.52,309.45 537.48,309.45" fill="#ee82ee" stroke="#000" stroke-width="1.3" stroke-linejoin="round"/>
</g>
<path d="M152.5 23.5v7.1M288.3 23.5v7.1M424.3 23.5v7.1" fill="none" stroke="#000" stroke-width="1.3"/>
<path d="M135.48 252.5v-3.3M135.48 256.4v3.3M135.48 370.5v-3.3M159.39 252.5v-3.3M159.39 256.4v3.3M159.39 370.5v-3.3M176.36 252.5v-3.3M176.36 256.4v3.3M176.36 370.5v-3.3M189.52 252.5v-3.3M189.52 256.4v3.3M189.52 370.5v-3.3M200.27 252.5v-3.3M200.27 256.4v3.3M200.27 370.5v-3.3M209.36 252.5v-3.3M209.36 256.4v3.3M209.36 370.5v-3.3M217.24 252.5v-3.3M217.24 256.4v3.3M217.24 370.5v-3.3M224.19 252.5v-3.3M224.19 256.4v3.3M224.19 370.5v-3.3M271.28 252.5v-3.3M271.28 256.4v3.3M271.28 370.5v-3.3M295.19 252.5v-3.3M295.19 256.4v3.3M295.19 370.5v-3.3M312.16 252.5v-3.3M312.16 256.4v3.3M312.16 370.5v-3.3M325.32 252.5v-3.3M325.32 256.4v3.3M325.32 370.5v-3.3M336.07 252.5v-3.3M336.07 256.4v3.3M336.07 370.5v-3.3M345.16 252.5v-3.3M345.16 256.4v3.3M345.16 370.5v-3.3M353.04 252.5v-3.3M353.04 256.4v3.3M353.04 370.5v-3.3M359.99 252.5v-3.3M359.99 256.4v3.3M359.99 370.5v-3.3M407.08 252.5v-3.3M407.08 256.4v3.3M407.08 370.5v-3.3M430.99 252.5v-3.3M430.99 256.4v3.3M430.99 370.5v-3.3M447.96 252.5v-3.3M447.96 256.4v3.3M447.96 370.5v-3.3M461.12 252.5v-3.3M461.12 256.4v3.3M461.12 370.5v-3.3M471.87 252.5v-3.3M471.87 256.4v3.3M471.87 370.5v-3.3M480.96 252.5v-3.3M480.96 256.4v3.3M480.96 370.5v-3.3M488.84 252.5v-3.3M488.84 256.4v3.3M488.84 370.5v-3.3M495.79 252.5v-3.3M495.79 256.4v3.3M495.79 370.5v-3.3M94.4 249.74h3.3M542.6 249.74h-3.3M94.4 228.21h3.3M542.6 228.21h-3.3M94.4 217.27h3.3M542.6 217.27h-3.3M94.4 209.51h3.3M542.6 209.51h-3.3M94.4 203.49h3.3M542.6 203.49h-3.3M94.4 198.58h3.3M542.6 198.58h-3.3M94.4 194.42h3.3M542.6 194.42h-3.3M94.4 190.82h3.3M542.6 190.82h-3.3M94.4 187.64h3.3M542.6 187.64h-3.3M94.4 166.11h3.3M542.6 166.11h-3.3M94.4 155.17h3.3M542.6 155.17h-3.3M94.4 147.41h3.3M542.6 147.41h-3.3M94.4 141.39h3.3M542.6 141.39h-3.3M94.4 136.48h3.3M542.6 136.48h-3.3M94.4 132.32h3.3M542.6 132.32h-3.3M94.4 128.72h3.3M542.6 128.72h-3.3M94.4 125.54h3.3M542.6 125.54h-3.3M94.4 104.01h3.3M542.6 104.01h-3.3M94.4 93.07h3.3M542.6 93.07h-3.3M94.4 85.31h3.3M542.6 85.31h-3.3M94.4 79.29h3.3M542.6 79.29h-3.3M94.4 74.38h3.3M542.6 74.38h-3.3M94.4 70.22h3.3M542.6 70.22h-3.3M94.4 66.62h3.3M542.6 66.62h-3.3M94.4 63.44h3.3M542.6 63.44h-3.3M94.4 41.91h3.3M542.6 41.91h-3.3M94.4 30.97h3.3M542.6 30.97h-3.3M94.4 364.83h3.3M542.6 364.83h-3.3M94.4 359.12h3.3M542.6 359.12h-3.3M94.4 353.4h3.3M542.6 353.4h-3.3M94.4 347.69h3.3M542.6 347.69h-3.3M94.4 336.26h3.3M542.6 336.26h-3.3M94.4 330.54h3.3M542.6 330.54h-3.3M94.4 324.83h3.3M542.6 324.83h-3.3M94.4 319.11h3.3M542.6 319.11h-3.3M94.4 307.69h3.3M542.6 307.69h-3.3M94.4 301.97h3.3M542.6 301.97h-3.3M94.4 296.25h3.3M542.6 296.25h-3.3M94.4 290.54h3.3M542.6 290.54h-3.3M94.4 279.11h3.3M542.6 279.11h-3.3M94.4 273.39h3.3M542.6 273.39h-3.3M94.4 267.68h3.3M542.6 267.68h-3.3M94.4 261.96h3.3M542.6 261.96h-3.3" fill="none" stroke="#000" stroke-width="1.1"/>
<path d="M230.4 252.5v-6.4M230.4 256.4v6.4M230.4 370.5v-6.4M366.2 252.5v-6.4M366.2 256.4v6.4M366.2 370.5v-6.4M502 252.5v-6.4M502 256.4v6.4M502 370.5v-6.4M94.4 246.9h6.4M542.6 246.9h-6.4M94.4 184.8h6.4M542.6 184.8h-6.4M94.4 122.7h6.4M542.6 122.7h-6.4M94.4 60.6h6.4M542.6 60.6h-6.4M94.4 341.97h6.4M542.6 341.97h-6.4M94.4 313.4h6.4M542.6 313.4h-6.4M94.4 284.82h6.4M542.6 284.82h-6.4" fill="none" stroke="#000" stroke-width="1.6"/>
<rect x="94.4" y="23.5" width="448.2" height="229" fill="none" stroke="#000" stroke-width="1.3"/>
<rect x="94.4" y="256.4" width="448.2" height="114.1" fill="none" stroke="#000" stroke-width="1.3"/>
<text class="t" x="152.7" y="18.9" text-anchor="middle">1</text>
<text class="t" x="288.9" y="18.9" text-anchor="middle">10</text>
<text class="t" x="425.1" y="18.9" text-anchor="middle">100</text>
<text class="t" x="84.3" y="380.4">10</text>
<text class="s" x="94.9" y="376.4">−2</text>
<text class="t" x="220.1" y="380.4">10</text>
<text class="s" x="230.7" y="376.4">−1</text>
<text class="t" x="358.7" y="380.4">10</text>
<text class="s" x="368.6" y="376.4">0</text>
<text class="t" x="494.5" y="380.4">10</text>
<text class="s" x="504.4" y="376.4">1</text>
<text class="t" x="87" y="249.1" text-anchor="end">10</text>
<text class="s" x="87.2" y="245.1">0</text>
<text class="t" x="87" y="187" text-anchor="end">10</text>
<text class="s" x="87.2" y="183">1</text>
<text class="t" x="87" y="124.9" text-anchor="end">10</text>
<text class="s" x="87.2" y="120.9">2</text>
<text class="t" x="87" y="62.8" text-anchor="end">10</text>
<text class="s" x="87.2" y="58.8">3</text>
<text class="t" x="91.9" y="259.35" text-anchor="end">1.0</text>
<text class="t" x="91.9" y="287.93" text-anchor="end">0.5</text>
<text class="t" x="91.9" y="316.5" text-anchor="end">0.0</text>
<text class="t" x="91.9" y="345.07" text-anchor="end">−0.5</text>
<text class="t" x="91.9" y="373.65" text-anchor="end">−1.0</text>
<text class="l i" transform="translate(291.4 10.1) scale(1.22 1.02)" stroke-width="0.2">θ</text>
<text class="l" x="299.9" y="10.1" letter-spacing="0.65">[arc</text>
<text class="l" x="322.7" y="10.1" letter-spacing="0.3">sec]</text>
<text class="l i" x="283.2" y="395.4">r</text>
<text class="ls i" x="289.2" y="397.2">p</text>
<text class="l" x="297.3" y="395.4">[</text>
<text class="l i" x="302.3" y="395.4">h</text>
<text class="ls" x="311.8" y="392.2">−</text>
<text class="ls" x="317.7" y="392.2">1</text>
<text class="l" x="322.7" y="395.4">M</text>
<text class="l" x="334.6" y="395.4">p</text>
<text class="l" x="341.7" y="395.4">c</text>
<text class="l" x="348.2" y="395.4">]</text>
<text class="l i" transform="translate(70.2 183.4) rotate(-90)">ω</text>
<text class="ls i" transform="translate(72 173.5) rotate(-90)">p</text>
<text class="l" transform="translate(70.2 167.1) rotate(-90)">(</text>
<text class="l i" transform="translate(70.2 162.5) rotate(-90)">r</text>
<text class="l" transform="translate(70.2 156.4) rotate(-90)">)</text>
<text class="l" transform="translate(70.2 148.9) rotate(-90)">[</text>
<text class="l i" transform="translate(70.2 144.2) rotate(-90)">h</text>
<text class="ls" transform="translate(67 134.9) rotate(-90)">−</text>
<text class="ls" transform="translate(67 128.9) rotate(-90)">1</text>
<text class="l" transform="translate(70.2 123.4) rotate(-90)">M</text>
<text class="l" transform="translate(70.2 111.4) rotate(-90)">p</text>
<text class="l" transform="translate(70.2 104.1) rotate(-90)">c</text>
<text class="l" transform="translate(70.2 97.9) rotate(-90)">]</text>
<text class="ll" transform="translate(65 337.5) rotate(-90)">log</text>
<text class="ll" transform="translate(65 314.3) rotate(-90)">ratio</text>
<text class="b" x="452.6" y="36.7">two-halo regime</text>
<text class="b" x="107" y="245.8">one-halo regime</text>
<path d="M408.3 61.3H423" fill="none" stroke="#000" stroke-width="2.1" stroke-dasharray="3 2.5"/>
<text class="g" x="431" y="64.4">Gal.-Gal. ACF</text>
<path d="M407.1 75.6H423.7" fill="none" stroke="#000" stroke-width="1.5"/>
<polygon points="418.6,75.6 417.05,78.59 413.95,78.59 412.4,75.6 413.95,72.61 417.05,72.61" fill="#ee82ee" stroke="#000" stroke-width="1.8" stroke-linejoin="round"/>
<text class="g" x="431" y="78.7">DCBH-Gal. XCF</text>
<path d="M407.1 89.9H423.7" fill="none" stroke="#000" stroke-width="1.5"/>
<polygon points="418.6,89.9 417.05,92.89 413.95,92.89 412.4,89.9 413.95,86.91 417.05,86.91" fill="#ff4500" stroke="#000" stroke-width="1.8" stroke-linejoin="round"/>
<text class="g" x="431" y="93">SIDM-Gal. XCF</text>
<path d="M407.1 104.1H423.7" fill="none" stroke="#000" stroke-width="1.5"/>
<polygon points="418.6,104.1 417.05,107.09 413.95,107.09 412.4,104.1 413.95,101.11 417.05,101.11" fill="#228b22" stroke="#000" stroke-width="1.8" stroke-linejoin="round"/>
<text class="g" x="431" y="107.2">PBH-Gal. XCF</text>
<path d="M407.1 118.4H423.7" fill="none" stroke="#000" stroke-width="1.5"/>
<polygon points="418.6,118.4 417.05,121.39 413.95,121.39 412.4,118.4 413.95,115.41 417.05,115.41" fill="#4169e1" stroke="#000" stroke-width="1.8" stroke-linejoin="round"/>
<text class="g" x="431" y="121.5">low-spin-Gal. XCF</text>
</svg></body></html>
